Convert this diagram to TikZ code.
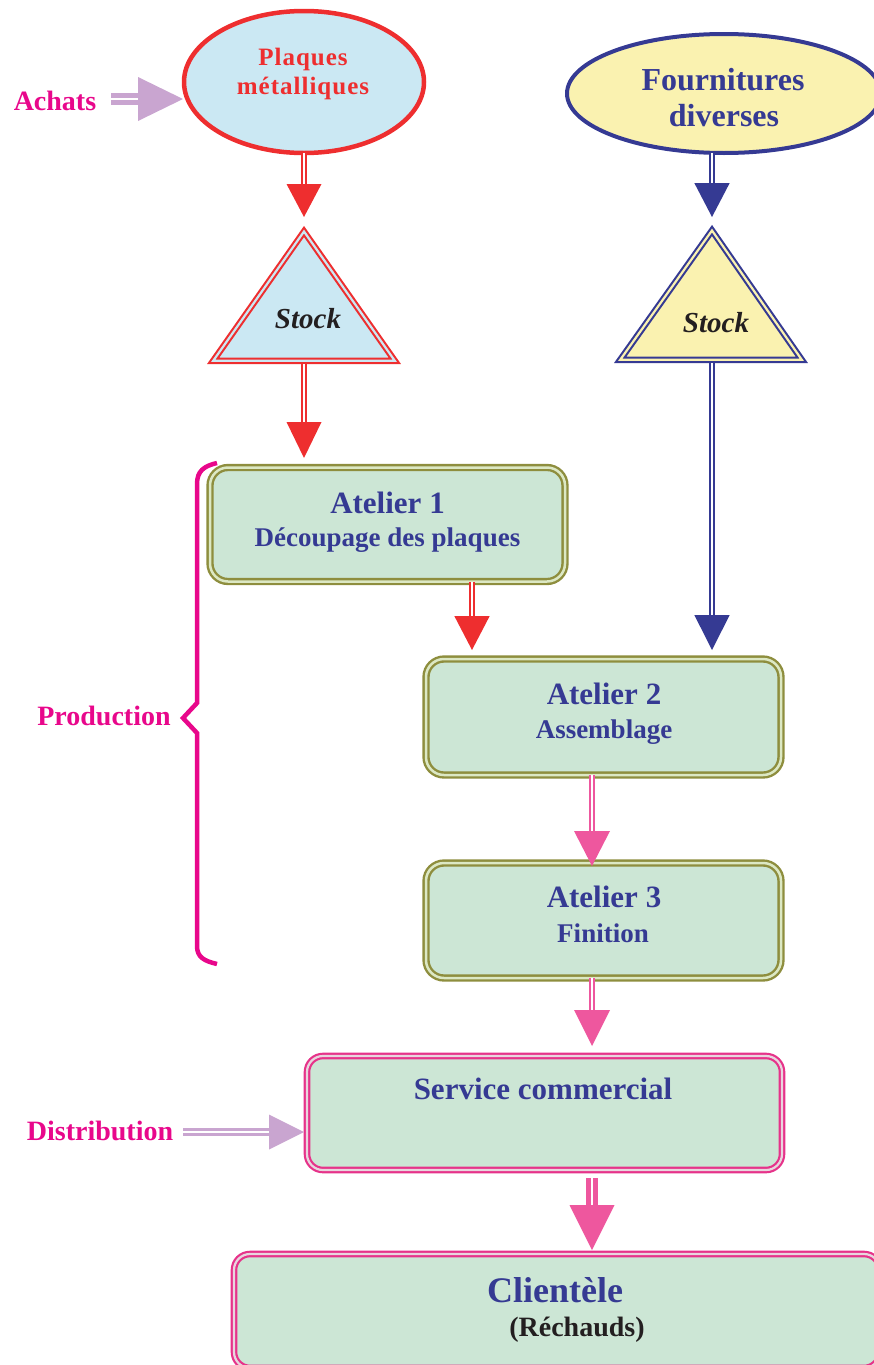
\documentclass[tikz,border=0pt]{standalone}
\usepackage{fontspec}
\setmainfont{Liberation Serif}
\usetikzlibrary{shapes.geometric}
\definecolor{redc}{HTML}{EE2E2F}
\definecolor{lblue}{HTML}{CBE8F3}
\definecolor{bluec}{HTML}{353A93}
\definecolor{yel}{HTML}{FAF2B0}
\definecolor{grn}{HTML}{CCE6D5}
\definecolor{olivec}{HTML}{8E8E3E}
\definecolor{gapg}{HTML}{DCE8C4}
\definecolor{magc}{HTML}{E8078B}
\definecolor{pinka}{HTML}{EE579E}
\definecolor{pinkb}{HTML}{E6338A}
\definecolor{gapp}{HTML}{E8D6DE}
\definecolor{lilac}{HTML}{C9A5D0}
\definecolor{darkc}{HTML}{231F20}
\begin{document}
\begin{tikzpicture}[x=1pt,y=-1pt,
  txt/.style={anchor=base,inner sep=0pt},
  fa/.style={font=\fontsize{25pt}{30pt}\selectfont\bfseries\addfontfeature{LetterSpace=4}},
  fb/.style={font=\fontsize{32pt}{38pt}\selectfont\bfseries},
  fc/.style={font=\fontsize{31pt}{37pt}\selectfont\bfseries},
  fd/.style={font=\fontsize{27pt}{32pt}\selectfont\bfseries},
  fe/.style={font=\fontsize{29pt}{34pt}\selectfont\bfseries\itshape},
  fg/.style={font=\fontsize{28pt}{33pt}\selectfont\bfseries},
  fh/.style={font=\fontsize{36pt}{42pt}\selectfont\bfseries},
  abox/.style={rectangle,draw=olivec,double=gapg,double distance=2.5pt,line width=2.4pt,
    fill=grn,rounded corners=18pt,minimum width=355pt,inner sep=0pt,outer sep=0pt},
  pbox/.style={rectangle,draw=pinkb,double=gapp,double distance=2.2pt,line width=2.2pt,
    fill=grn,rounded corners=16pt,inner sep=0pt,outer sep=0pt},
  tri/.style={line width=2.1pt,double distance=2.2pt,line join=miter},
  rsh/.style={draw=redc,line width=2.2pt,double=white,double distance=2.2pt},
  bsh/.style={draw=bluec,line width=2.2pt,double=white,double distance=2.2pt},
  psh/.style={draw=pinka,line width=2.2pt,double=white,double distance=2.4pt},
  psht/.style={draw=pinka,line width=4.5pt,double=white,double distance=2.5pt},
  lsh/.style={draw=lilac,line width=5pt,double=white,double distance=2pt},
  dsh/.style={draw=lilac,line width=3.2pt,double=white,double distance=2.2pt}
]
\useasboundingbox (0,0) rectangle (874,1365);
\clip (0,0) rectangle (874,1365);

% ellipses
\node[ellipse,draw=redc,fill=lblue,line width=4.5pt,minimum width=240pt,minimum height=142pt,
  inner sep=0pt,outer sep=0pt] (plaq) at (304,82) {};
\node[txt,fa,redc] (plaqA) at (303,65) {Plaques};
\node[txt,fa,redc] (plaqB) at (303,94) {métalliques};

\node[ellipse,draw=bluec,fill=yel,line width=4pt,minimum width=314pt,minimum height=119pt,
  inner sep=0pt,outer sep=0pt] (four) at (724,93.5) {};
\node[txt,fb,bluec] (fourA) at (723,90) {Fournitures};
\node[txt,fb,bluec] (fourB) at (724,126) {diverses};

% triangles (stocks)
\coordinate (st1top) at (304,226);
\coordinate (st1bot) at (304,364);
\coordinate (st2top) at (712,225);
\coordinate (st2bot) at (712,363);
\draw[tri,draw=redc,double=lblue,fill=lblue] (304,231.5) -- (394.8,360.8) -- (213.2,360.8) -- cycle;
\draw[tri,draw=bluec,double=yel,fill=yel] (712,230.5) -- (801.8,359.8) -- (620.2,359.8) -- cycle;
\node[txt,fe,darkc] (st1) at (308,328) {Stock};
\node[txt,fe,darkc] (st2) at (716,332) {Stock};

% ateliers
\node[abox,minimum height=114pt] (a1) at (387.5,524.5) {};
\node[txt,fc,bluec] (a1A) at (387.5,513) {Atelier 1};
\node[txt,fd,bluec] (a1B) at (387.5,546) {Découpage des plaques};

\node[abox,minimum height=116pt] (a2) at (603.5,717) {};
\node[txt,fc,bluec] (a2A) at (604,704) {Atelier 2};
\node[txt,fd,bluec] (a2B) at (604,738) {Assemblage};

\node[abox,minimum height=115pt] (a3) at (603.5,920.5) {};
\node[txt,fc,bluec] (a3A) at (604,907) {Atelier 3};
\node[txt,fd,bluec] (a3B) at (603,942) {Finition};

% service & clientele
\node[pbox,minimum width=475pt,minimum height=114pt] (serv) at (544.5,1113) {};
\node[txt,fc,bluec] (servA) at (543,1099) {Service commercial};

\node[pbox,minimum width=646pt,minimum height=114pt] (cli) at (557,1311) {};
\node[txt,fh,bluec] (cliA) at (555,1302) {Clientèle};
\node[txt,fg,darkc] (cliB) at (577,1336) {(Réchauds)};

% side labels
\node[txt,fg,magc] (ach) at (55,110) {Achats};
\node[txt,fg,magc] (prod) at (104,725) {Production};
\node[txt,fg,magc] (dist) at (100,1140) {Distribution};

% brace
\draw[magc,line width=4.5pt,line join=miter] (217,463) .. controls (204,466) and (197,471) .. (197,484)
  -- (197,703) -- (183,718) -- (197,733) -- (197,946)
  .. controls (197,957) and (204,961) .. (217,964);

% connectors
\coordinate (c12) at (472,0);
\coordinate (c23) at (592,0);
\coordinate (achA) at (111,99);
\coordinate (disA) at (183,1132);

% plaques -> stock
\draw[rsh] (plaq.south) -- ++(0,33);
\fill[redc] (plaq.south) ++(-17.5,31) -- ++(35,0) -- ++(-17.5,33) -- cycle;
% stock -> atelier 1
\draw[rsh] (st1bot) -- ++(0,61);
\fill[redc] (st1bot) ++(-17.5,58) -- ++(35,0) -- ++(-17.5,36) -- cycle;
% fournitures -> stock
\draw[bsh] (st2top |- four.south) -- ++(0,31);
\fill[bluec] (st2top |- four.south) ++(-17.7,30) -- ++(35.4,0) -- ++(-17.7,34) -- cycle;
% stock -> atelier 2
\draw[bsh] (st2bot) -- ++(0,254);
\fill[bluec] (st2bot) ++(-17.7,252) -- ++(35.4,0) -- ++(-17.7,35) -- cycle;
% atelier 1 -> atelier 2
\draw[rsh] (c12 |- a1.south) -- ++(0,36);
\fill[redc] (c12 |- a1.south) ++(-17.7,34.5) -- ++(35.4,0) -- ++(-17.7,34) -- cycle;
% atelier 2 -> atelier 3
\draw[psh] (c23 |- a2.south) -- ++(0,58);
\fill[pinka] (c23 |- a2.south) ++(-18,56) -- ++(36,0) -- ++(-18,35) -- cycle;
% atelier 3 -> service
\draw[psh] (c23 |- a3.south) -- ++(0,34);
\fill[pinka] (c23 |- a3.south) ++(-18,32) -- ++(36,0) -- ++(-18,36) -- cycle;
% service -> clientele
\draw[psht] (c23 |- serv.south) ++(0,8) -- ++(0,29);
\fill[pinka] (c23 |- serv.south) ++(-22.5,35) -- ++(45,0) -- ++(-22.5,45) -- cycle;
% achats -> plaques
\draw[lsh] (achA) -- ++(29,0);
\fill[lilac] (achA) ++(27,-22) -- ++(0,44) -- ++(45,-22) -- cycle;
% distribution -> service
\draw[dsh] (disA) -- ++(88,0);
\fill[lilac] (disA) ++(86,-17.5) -- ++(0,35) -- ++(35,-17.5) -- cycle;
\end{tikzpicture}
\end{document}
